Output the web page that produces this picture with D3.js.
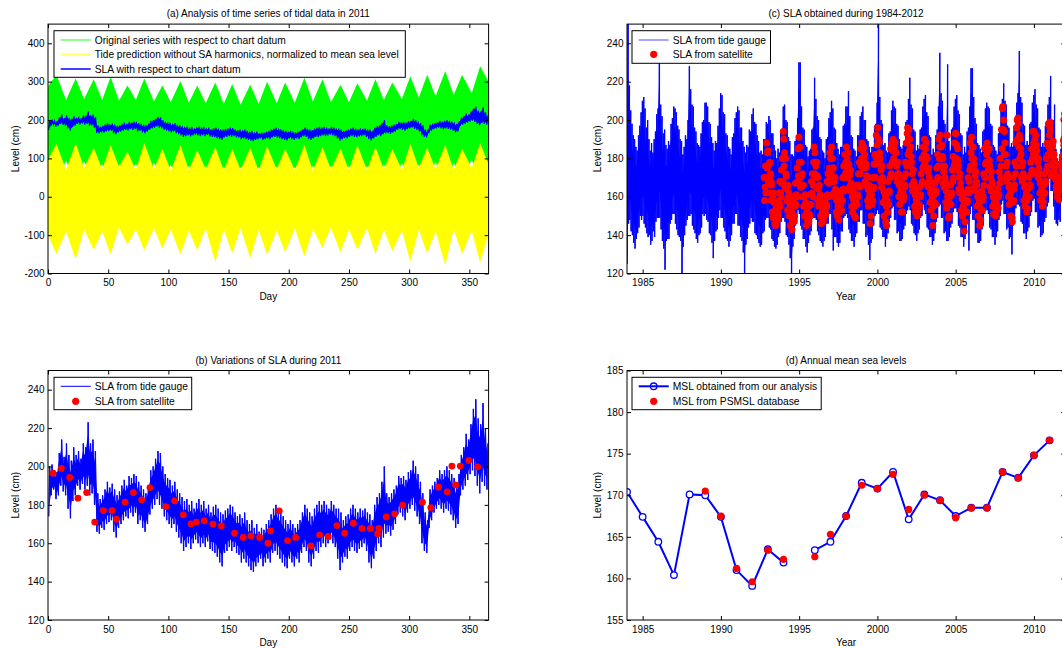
<!DOCTYPE html>
<html><head><meta charset="utf-8">
<script src="https://cdn.jsdelivr.net/npm/d3@7"></script>
<style>
body{margin:0;background:#fff;}
svg text{font-family:"Liberation Sans",Arial,Helvetica,sans-serif;font-size:10px;fill:#000;}
</style></head><body>
<svg id="chart" width="1062" height="648"></svg>
<script>
// ---------- Panel (a): tide envelopes at spring / neap turning points ----------
const tideDays = [0,7,15,23,30,38,45,52,59,66,73,80,88,95,102,110,117,124,131,139,146,153,160,168,175,182,190,197,205,213,220,228,235,243,250,257,265,272,279,286,294,301,308,315,322,330,337,344,352,359,366];
const origMax = [288,318,252,308,255,306,252,312,250,290,252,308,248,290,246,302,245,290,244,298,242,294,240,292,242,300,244,298,245,310,248,306,246,292,246,296,250,306,252,298,255,314,258,318,262,328,265,318,270,340,300];
const origMin = [96,40,94,35,92,45,84,38,84,55,86,40,88,50,82,38,80,45,80,30,78,40,77,32,77,35,78,40,77,30,80,45,80,40,80,42,80,35,84,40,88,25,84,40,92,20,90,40,98,25,96];
const predMax = [95,138,70,140,75,128,72,135,78,118,70,140,72,125,68,135,70,122,72,130,68,125,70,128,68,132,72,125,70,135,68,130,72,125,70,135,70,130,72,125,70,138,75,128,72,135,70,125,75,140,85];
const predMin = [-100,-150,-90,-163,-85,-139,-90,-150,-80,-125,-85,-140,-82,-135,-85,-150,-88,-140,-82,-170,-85,-148,-82,-160,-85,-152,-88,-145,-82,-156,-85,-132,-80,-145,-85,-138,-82,-150,-85,-142,-88,-170,-85,-148,-90,-178,-85,-150,-88,-172,-95];

// ---------- SLA 2011 (2-day bins starting day 0): min / max ----------
const slaBinDays = 2;
const slaMin = [174,185,188,183,185,190,187,185,178,173,182,185,190,188,191,188,190,185,186,180,
166,165,168,167,170,171,172,166,163,168,170,172,174,173,176,174,176,170,172,168,
166,170,175,178,180,183,180,178,174,172,170,168,170,166,163,160,156,158,160,157,
160,162,160,158,160,158,161,157,156,155,153,150,148,155,156,158,156,158,155,154,
150,152,150,148,146,145,148,150,152,148,150,152,150,155,156,154,152,150,148,147,
152,150,148,152,150,155,158,156,150,148,152,156,155,158,160,158,160,162,160,158,
152,146,150,153,152,156,158,156,155,157,158,160,156,150,147,152,156,160,158,163,
165,166,164,167,170,175,176,174,172,176,178,180,177,174,170,160,156,155,168,172,
176,178,180,178,176,178,177,175,172,168,170,185,188,190,193,196,198,195,190,186,
192,190,188];
const slaMax = [200,201,198,197,207,214,205,212,206,203,210,206,208,204,212,210,223,212,214,208,
186,183,185,188,192,189,191,188,185,187,190,193,190,195,194,196,195,192,190,188,
186,190,198,200,204,208,207,200,196,194,193,190,192,188,186,184,182,183,180,182,
178,181,183,180,182,178,180,176,179,180,178,176,175,177,178,180,179,176,174,175,
173,176,172,170,172,168,170,166,168,167,170,172,175,178,180,178,176,174,172,170,
172,170,168,170,172,176,180,178,176,174,178,180,182,180,182,180,178,182,180,178,
178,176,172,174,175,178,180,178,176,178,177,178,176,175,172,180,184,186,192,200,
186,184,186,188,190,195,194,195,193,197,198,203,200,196,192,186,176,172,188,190,
192,194,198,196,198,200,198,196,194,190,196,206,210,217,214,222,230,235,225,222,
233,220,212];

// ---------- Satellite SLA 2011 ----------
const sat2011Day = [4.2,11.1,18,24.9,32.1,38.8,46,53.2,56.8,64,70.9,77.8,84.7,98,105.2,112.4,118.8,123.2,129.8,137,144,155,162.2,168.6,175.8,182.7,184.9,192.1,199,205.7,218.4,225.6,232.8,240,246.4,253.6,260.8,267.7,273.8,274.9,281,288,294.6,311,318,324.4,331.6,335.5,338.6,342.5,349.6,356.9];
const sat2011Val = [196.5,199,194.3,183.5,186.4,171,177,177,172.5,181.4,186.4,182.6,189,179.1,182.1,174.8,170.1,171,171.7,170,169,165.2,163,163.8,163,160,166.4,176.9,161.4,163,158.6,164.4,163.5,169.2,165.2,170.4,167.7,167.7,164.9,167.7,173.7,175.3,179.8,181.4,178.6,189.2,186.8,200.2,190.4,200.2,203.1,199.8];

// ---------- Panel (c): tide gauge SLA 1984-2011, monthly min / max ----------
const gaugeStartYear = 1984;
const gaugeMonthMax = [
250,218,205,198,192,190,186,184,192,197,204,210,
212,206,196,200,190,184,188,183,190,194,203,206,
233,208,202,193,195,187,185,189,187,198,201,207,
206,204,197,195,190,189,182,186,192,190,200,228,
216,208,207,196,194,188,187,186,193,199,200,209,
209,207,199,198,191,188,184,189,188,197,206,214,
213,204,203,193,192,186,185,182,191,193,201,204,
207,205,196,196,189,186,183,187,186,195,194,203,
206,199,198,192,189,183,184,182,190,190,199,198,
202,200,193,193,187,184,180,185,183,194,195,207,
208,200,199,191,189,182,182,181,189,190,201,230,
230,207,196,195,187,186,181,184,185,195,196,222,
211,202,200,191,190,184,183,180,190,191,201,204,
210,206,196,195,188,185,182,186,186,197,198,207,
207,215,202,192,191,185,184,181,192,192,202,204,
207,200,200,190,189,186,183,186,186,197,198,209,
250,212,200,198,187,188,184,183,193,194,205,210,
207,206,198,197,190,186,185,187,188,199,200,211,
222,208,206,195,194,184,187,185,195,196,207,211,
213,204,202,192,191,182,185,183,192,195,207,235,
214,210,200,198,188,229,189,184,195,196,207,211,
213,205,203,193,192,182,186,183,194,196,207,227,
227,212,201,198,188,187,185,183,194,195,206,209,
207,206,198,197,187,186,184,182,193,195,206,211,
219,210,208,197,196,186,188,186,197,198,209,214,
236,212,209,198,197,187,189,187,198,199,209,213,
216,208,206,196,195,186,188,186,197,198,208,212,
223,195,200,208,185,180,178,182,185,200,205,235];
const gaugeMonthMin = [
125,146,148,142,140,136,133,138,141,144,150,148,
150,146,144,141,139,140,135,137,142,139,147,149,
149,149,143,137,133,122,137,138,138,146,148,151,
151,146,143,140,139,137,120,134,140,145,148,150,
150,151,145,143,141,138,136,140,141,144,151,150,
151,148,147,141,140,136,128,137,142,143,149,153,
149,149,144,142,138,137,134,137,140,146,146,151,
151,145,145,139,137,131,120,135,138,144,146,149,
147,147,141,140,138,136,134,135,141,142,148,149,
149,144,143,138,137,134,133,135,139,141,147,149,
149,147,140,139,135,128,118,134,138,145,146,153,
151,145,143,138,138,134,131,136,140,142,149,149,
149,148,142,140,137,136,134,137,139,146,146,151,
151,143,132,139,139,136,134,136,142,142,149,150,
151,149,143,141,137,137,134,139,141,147,147,153,
153,146,146,139,140,135,127,136,138,145,150,151,
153,151,144,143,139,139,134,138,141,147,149,154,
155,148,148,141,142,137,137,138,143,145,151,153,
155,153,146,145,141,140,137,141,143,149,150,156,
153,151,144,143,139,139,135,137,141,147,149,155,
156,149,149,141,142,137,137,139,144,146,152,154,
154,152,145,144,139,139,134,138,141,147,132,151,
155,148,148,141,141,136,136,137,143,145,151,153,
153,151,144,143,139,139,135,139,142,148,150,156,
158,151,151,143,144,138,139,130,145,148,154,156,
156,155,147,146,141,141,138,142,144,150,152,158,
159,152,152,144,145,139,140,141,147,149,155,157,
173,163,163,155,148,146,145,148,147,160,155,186];

// ---------- Panel (c): satellite SLA, 3 passes per month from Oct 1992 to Dec 2010 ----------
const satStartYear = 1992.75;
const satPerMonth = 3;
const satMonthly = [
170,158,165, 176,162,170, 188,175,183,
184,168,177, 162,178,170, 172,158,166, 167,152,161, 149,162,157, 158,146,153, 145,155,150, 157,148,153, 150,162,157, 168,155,162, 160,174,167, 180,168,194,
190,176,183, 165,180,172, 171,158,164, 153,166,160, 162,150,156, 145,156,151, 152,143,148, 150,158,147, 160,150,155, 167,156,161, 160,175,168, 185,171,191,
178,186,170, 165,178,171, 160,172,166, 166,155,160, 150,161,156, 157,145,152, 148,156,146, 155,147,151, 161,150,156, 156,168,162, 172,160,166, 178,186,172,
183,170,176, 165,178,171, 170,158,164, 155,166,160, 161,150,156, 146,157,152, 155,147,150, 150,158,153, 160,151,156, 155,168,161, 172,160,167, 175,183,170,
180,172,186, 168,180,175, 175,162,168, 160,170,164, 163,152,158, 150,160,155, 156,148,153, 152,160,156, 163,153,158, 158,170,164, 176,163,170, 182,172,178,
186,174,180, 170,183,176, 177,165,171, 163,174,167, 166,155,160, 152,163,158, 160,150,155, 149,160,157, 166,156,161, 160,172,166, 178,165,172, 185,176,180,
188,178,184, 175,186,180, 182,168,175, 166,177,171, 170,158,164, 155,166,160, 162,146,157, 150,161,156, 170,158,164, 165,177,170, 182,170,177, 192,180,187,
196,182,190, 178,189,183, 180,168,174, 165,176,170, 168,157,163, 150,162,158, 160,147,155, 145,158,152, 168,156,162, 163,176,170, 185,172,186, 188,178,184,
190,180,186, 178,188,183, 183,170,176, 168,178,172, 172,160,166, 156,167,162, 164,152,158, 152,162,158, 170,160,165, 166,178,172, 188,176,193, 196,182,190,
195,184,190, 176,186,181, 178,166,172, 163,174,168, 166,155,161, 152,163,158, 160,150,155, 152,160,156, 165,155,160, 161,172,166, 180,168,175, 186,176,182,
190,178,185, 175,188,181, 180,167,173, 165,175,170, 168,157,162, 153,164,158, 160,145,155, 150,161,157, 167,156,162, 163,175,169, 182,170,176, 190,180,186,
192,180,186, 176,187,181, 180,167,173, 165,176,170, 168,157,163, 154,192,160, 162,149,157, 150,160,156, 166,156,161, 162,174,168, 181,170,176, 188,178,193,
193,180,187, 174,185,179, 176,164,170, 162,172,167, 164,153,159, 150,160,155, 158,142,153, 147,158,152, 162,152,157, 158,170,164, 162,168,174, 188,176,183,
191,180,186, 175,186,180, 177,165,171, 163,173,168, 166,155,160, 150,161,156, 158,145,154, 148,159,153, 163,153,158, 160,172,166, 185,170,177, 186,178,182,
188,178,184, 174,185,179, 176,165,170, 163,173,168, 166,155,160, 151,162,157, 158,150,154, 152,160,156, 164,154,160, 161,173,167, 180,170,176, 195,185,206,
207,195,200, 182,194,188, 182,170,176, 168,178,172, 170,160,165, 156,166,161, 162,150,158, 149,147,157, 170,158,164, 166,178,172, 188,176,196, 200,190,201,
198,186,192, 180,190,185, 182,170,176, 168,178,172, 170,158,165, 155,166,160, 162,152,158, 154,164,160, 170,160,165, 166,178,172, 185,174,180, 194,182,188,
194,184,190, 182,192,187, 184,172,178, 170,180,175, 172,162,167, 158,168,163, 165,155,160, 157,166,162, 172,162,167, 168,180,174, 188,176,182, 198,186,192];

// ---------- Panel (d): annual mean sea levels ----------
const mslYears = [1984,1985,1986,1987,1988,1989,1990,1991,1992,1993,1994,1995,1996,1997,1998,1999,2000,2001,2002,2003,2004,2005,2006,2007,2008,2009,2010,2011];
const mslOurs = [170.4,167.4,164.4,160.4,170.1,170.0,167.4,161.0,159.1,163.5,161.9,null,163.4,164.4,167.5,171.5,170.8,172.8,167.1,170.1,169.4,167.5,168.5,168.5,172.8,172.1,174.8,176.6];
const mslPsmsl = [null,null,null,null,null,170.5,167.5,161.2,159.6,163.4,162.3,null,162.6,165.3,167.5,171.2,170.8,172.5,168.3,170.0,169.4,167.3,168.5,168.5,172.8,172.1,174.8,176.6];

// ---------- tick values ----------
const dayTicks = [0,50,100,150,200,250,300,350];
const yearTicks = [1985,1990,1995,2000,2005,2010];
const levelTicksA = [-200,-100,0,100,200,300,400];
const levelTicksBC = [120,140,160,180,200,220,240];
const levelTicksD = [155,160,165,170,175,180,185];

const svg = d3.select("#chart");
const FONT = '"Liberation Sans",Arial,Helvetica,sans-serif';

function makePanel(o){
  const x = d3.scaleLinear().domain(o.xd).range([o.x0,o.x1]);
  const y = d3.scaleLinear().domain(o.yd).range([o.y1,o.y0]);
  const cid = "clip_"+o.id;
  svg.append("clipPath").attr("id",cid).append("rect")
    .attr("x",o.x0).attr("y",o.y0).attr("width",o.x1-o.x0).attr("height",o.y1-o.y0);
  const g = svg.append("g");
  const plot = g.append("g").attr("clip-path",`url(#${cid})`);
  return {o,x,y,g,plot};
}
function finishPanel(p, xt, yt, xlabel, title, ylabX){
  const o=p.o, g=p.g;
  const fmt = d=>String(d);
  const ax = [
    g.append("g").attr("transform",`translate(0,${o.y1})`).call(d3.axisBottom(p.x).tickValues(xt).tickSize(-4).tickPadding(5.5).tickFormat(fmt)),
    g.append("g").attr("transform",`translate(0,${o.y0})`).call(d3.axisTop(p.x).tickValues(xt).tickSize(-4).tickFormat("")),
    g.append("g").attr("transform",`translate(${o.x0},0)`).call(d3.axisLeft(p.y).tickValues(yt).tickSize(-4).tickPadding(3.5).tickFormat(fmt)),
    g.append("g").attr("transform",`translate(${o.x1},0)`).call(d3.axisRight(p.y).tickValues(yt).tickSize(-4).tickFormat(""))
  ];
  ax.forEach(a=>{a.select(".domain").remove(); a.attr("font-family",FONT).attr("font-size",10);
    a.selectAll("line").attr("stroke","#000"); a.selectAll("text").attr("fill","#000");});
  g.append("rect").attr("x",o.x0).attr("y",o.y0).attr("width",o.x1-o.x0).attr("height",o.y1-o.y0)
    .attr("fill","none").attr("stroke","#000").attr("stroke-width",1);
  g.append("text").attr("x",(o.x0+o.x1)/2).attr("y",o.y0-7).attr("text-anchor","middle").text(title);
  g.append("text").attr("x",(o.x0+o.x1)/2).attr("y",o.y1+26).attr("text-anchor","middle").text(xlabel);
  g.append("text").attr("transform",`translate(${ylabX},${(o.y0+o.y1)/2}) rotate(-90)`).attr("text-anchor","middle").text("Level (cm)");
}
function legend(x0,y0,x1,y1,fs,items){
  const g = svg.append("g");
  g.append("rect").attr("x",x0).attr("y",y0).attr("width",x1-x0).attr("height",y1-y0).attr("fill","#fff").attr("stroke","#000");
  items.forEach(it=>{
    const yy = y0+it.dy;
    if(it.line) g.append("line").attr("x1",x0+6.7).attr("x2",x0+36.7).attr("y1",yy).attr("y2",yy).attr("stroke",it.color).attr("stroke-width",it.lw||1).attr("stroke-opacity",it.op||1);
    if(it.circle) g.append("circle").attr("cx",x0+21.7).attr("cy",yy).attr("r",3.3).attr("fill","none").attr("stroke",it.color).attr("stroke-width",1.3);
    if(it.dot) g.append("circle").attr("cx",x0+21.7).attr("cy",yy).attr("r",3.6).attr("fill","#ff0000");
    const t = g.append("text").attr("x",x0+40.7).attr("y",yy+3.7).style("font-size",fs+"px").text(it.text);
    if(it.len) t.attr("textLength",it.len).attr("lengthAdjust","spacingAndGlyphs");
  });
}
// bins -> rows
const slaRows = slaMin.map((v,i)=>({t:i*slaBinDays+1, lo:v, hi:slaMax[i]}));
const gaugeRows = gaugeMonthMin.map((v,m)=>({t:gaugeStartYear+(m+0.5)/12, lo:v, hi:gaugeMonthMax[m]}));
function zigzag(rows, half){
  const pts=[];
  rows.forEach(r=>{ pts.push([r.t-half/2, r.lo]); pts.push([r.t+half/2, r.hi]); });
  return pts;
}
// dense band: lighter spiky fringe + solid core
function drawBand(P, rows, half, inset, fringeOp){
  P.plot.append("path").datum(zigzag(rows,half)).attr("fill","none").attr("stroke","#0000ff")
    .attr("stroke-width",1).attr("stroke-opacity",fringeOp)
    .attr("d",d3.line().x(p=>P.x(p[0])).y(p=>P.y(p[1])));
  P.plot.append("path").datum(rows).attr("fill","#0000ff")
    .attr("d",d3.area().x(r=>P.x(r.t)).y0(r=>P.y(r.lo+inset*(r.hi-r.lo))).y1(r=>P.y(r.hi-inset*(r.hi-r.lo))));
  P.plot.append("path").datum(zigzag(rows,half*0.5)).attr("fill","none").attr("stroke","#0000ff")
    .attr("stroke-width",1).attr("stroke-opacity",0.9)
    .attr("d",d3.line().x(p=>P.x(p[0])).y(p=>P.y(p[1])));
}

// ================= Panel (a) =================
const A = makePanel({id:"a",x0:48,x1:488.6,y0:24.1,y1:273.5,xd:[0,366],yd:[-200,450]});
const tideRows = tideDays.map((d,i)=>({d,oMax:origMax[i],oMin:origMin[i],pMax:predMax[i],pMin:predMin[i]}));
A.plot.append("path").datum(tideRows).attr("fill","#00ff00")
  .attr("d",d3.area().x(r=>A.x(r.d)).y0(r=>A.y(r.oMin)).y1(r=>A.y(r.oMax)));
A.plot.append("path").datum(tideRows).attr("fill","#ffff00")
  .attr("d",d3.area().x(r=>A.x(r.d)).y0(r=>A.y(r.pMin)).y1(r=>A.y(r.pMax)));
A.plot.append("path").datum(slaRows).attr("fill","#0000ff")
  .attr("d",d3.area().x(r=>A.x(r.t)).y0(r=>A.y(r.lo+4)).y1(r=>A.y(r.hi-4)));
A.plot.append("path").datum(zigzag(slaRows,1)).attr("fill","none").attr("stroke","#0000ff").attr("stroke-width",1.2)
  .attr("d",d3.line().x(p=>A.x(p[0])).y(p=>A.y(p[1])));
finishPanel(A, dayTicks, levelTicksA, "Day", "(a) Analysis of time series of tidal data in 2011", 18.7);
legend(54,30.7,405.3,77.3,10.75,[
  {line:true,color:"#00ff00",text:"Original series with respect to chart datum",dy:9.3,lw:1.5,op:0.6,len:191},
  {line:true,color:"#ffff00",text:"Tide prediction without SA harmonics, normalized to mean sea level",dy:23.6,lw:1.5,op:0.6,len:304},
  {line:true,color:"#0000ff",text:"SLA with respect to chart datum",dy:38.3,lw:2,op:0.75,len:146}
]);

// ================= Panel (b) =================
const B = makePanel({id:"b",x0:48,x1:488.6,y0:370.5,y1:620,xd:[0,366],yd:[120,250]});
drawBand(B, slaRows, 1, 0.2, 0.6);
B.plot.selectAll("circle.sat").data(sat2011Day.map((d,i)=>[d,sat2011Val[i]])).join("circle")
  .attr("cx",p=>B.x(p[0])).attr("cy",p=>B.y(p[1])).attr("r",3.4).attr("fill","#ff0000");
finishPanel(B, dayTicks, levelTicksBC, "Day", "(b) Variations of SLA during 2011", 18.7);
legend(54,377.3,191.7,409.7,10.3,[
  {line:true,color:"#0000ff",text:"SLA from tide gauge",dy:9,lw:1},
  {dot:true,text:"SLA from satellite",dy:24}
]);

// ================= Panel (c) =================
const C = makePanel({id:"c",x0:627,x1:1065.2,y0:24.1,y1:273.5,xd:[1984,2012],yd:[120,250]});
drawBand(C, gaugeRows, 1/12, 0.18, 0.55);
const satC = satMonthly.map((v,i)=>[satStartYear+(Math.floor(i/satPerMonth)+((i%satPerMonth)+0.5)/satPerMonth)/12, v])
  .concat(sat2011Day.map((d,i)=>[2011+d/365, sat2011Val[i]]));
C.plot.selectAll("circle.sat").data(satC).join("circle")
  .attr("cx",p=>C.x(p[0])).attr("cy",p=>C.y(p[1])).attr("r",3.5).attr("fill","#ff0000");
finishPanel(C, yearTicks, levelTicksBC, "Year", "(c) SLA obtained during 1984-2012", 600.5);
legend(632,30.7,770.5,63.3,10.3,[
  {line:true,color:"#0000ff",text:"SLA from tide gauge",dy:9.3,lw:1,op:0.7},
  {dot:true,text:"SLA from satellite",dy:23.6}
]);

// ================= Panel (d) =================
const D = makePanel({id:"d",x0:627,x1:1065.2,y0:370.5,y1:620,xd:[1984,2012],yd:[155,185]});
const dRows = mslYears.map((yr,i)=>({yr,ours:mslOurs[i],ps:mslPsmsl[i]}));
D.plot.append("path").datum(dRows).attr("fill","none").attr("stroke","#0000ff").attr("stroke-width",2)
  .attr("d",d3.line().defined(r=>r.ours!=null).x(r=>D.x(r.yr)).y(r=>D.y(r.ours)));
D.plot.selectAll("circle.ours").data(dRows.filter(r=>r.ours!=null)).join("circle").attr("class","ours")
  .attr("cx",r=>D.x(r.yr)).attr("cy",r=>D.y(r.ours)).attr("r",3.3).attr("fill","#fff").attr("stroke","#0000ff").attr("stroke-width",1.3);
D.plot.selectAll("circle.ps").data(dRows.filter(r=>r.ps!=null)).join("circle").attr("class","ps")
  .attr("cx",r=>D.x(r.yr)).attr("cy",r=>D.y(r.ps)).attr("r",3.6).attr("fill","#ff0000");
finishPanel(D, yearTicks, levelTicksD, "Year", "(d) Annual mean sea levels", 600.5);
legend(632,377.3,821.2,409.7,10.3,[
  {line:true,circle:true,color:"#0000ff",text:"MSL obtained from our analysis",dy:9,lw:2},
  {dot:true,text:"MSL from PSMSL database",dy:24}
]);
</script>
</body></html>
